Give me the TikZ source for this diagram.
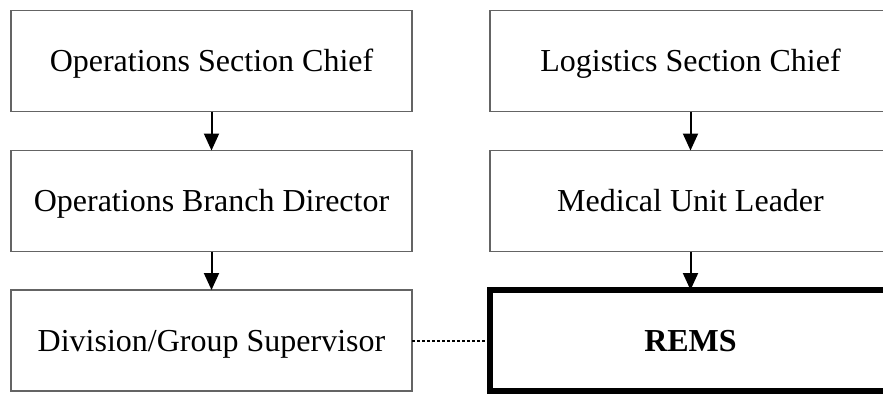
\documentclass[tikz,border=0pt]{standalone}
\usepackage{fontspec}
\setmainfont{Liberation Serif}
\usetikzlibrary{positioning,arrows.meta}
\tikzset{
  role/.style={draw={rgb,255:red,100;green,100;blue,100}, line width=1.5pt,
    minimum width=401pt, minimum height=101pt, inner sep=0pt, outer sep=0pt,
    text height=21pt, text depth=0pt,
    font=\fontsize{32}{38}\selectfont},
  lead/.style={role, draw=black, line width=6pt},
  down/.style={-{Triangle[width=15pt,length=17pt]}, line width=2pt},
  link/.style={dash pattern=on 3pt off 2pt, line width=2pt},
}
\begin{document}
\begin{tikzpicture}[x=1pt,y=-1pt]
        \useasboundingbox (0,0) rectangle (883,394);
        \clip (0,0) rectangle (883,394);
        \node[role] (osc) at (211.5,61) {Operations Section Chief};
        \node[role, below=39pt of osc] (obd) {Operations Branch Director};
        \node[role, below=38.5pt of obd] (dgs) {Division/Group Supervisor};
        \node[role] (lsc) at (690.5,61) {Logistics Section Chief};
        \node[role, below=39pt of lsc] (mul) {Medical Unit Leader};
        \node[lead, below=38.5pt of mul] (rems) {\textbf{REMS}};
        \draw[down] (osc) -- (obd);
        \draw[down] (obd) -- (dgs);
        \draw[down] (lsc) -- (mul);
        \draw[down] (mul) -- (rems);
        \draw[link] (dgs) -- (rems);
      \end{tikzpicture}
\end{document}
